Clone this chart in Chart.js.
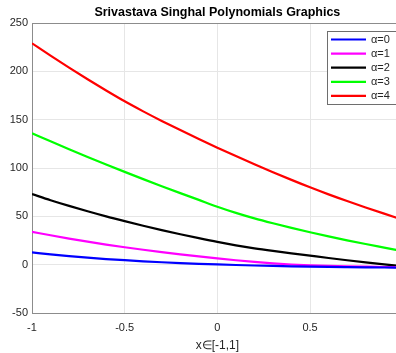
<!DOCTYPE html>
<html>
<head>
<meta charset="utf-8">
<script src="https://cdn.jsdelivr.net/npm/chart.js@4/dist/chart.umd.min.js"></script>
<style>
  html, body { margin: 0; padding: 0; background: #fff; overflow: hidden; }
  #wrap { width: 404px; height: 353px; }
</style>
</head>
<body>
<div id="wrap"><canvas id="c" width="404" height="353"></canvas></div>
<script>
// Sample points on [-1, 1], step 0.1
const xs = [-1, -0.9, -0.8, -0.7, -0.6, -0.5, -0.4, -0.3, -0.2, -0.1, 0,
            0.1, 0.2, 0.3, 0.4, 0.5, 0.6, 0.7, 0.8, 0.9, 1];

// Polynomial values for each alpha
const alpha0 = [12.7, 10.6, 8.8, 7.2, 5.8, 4.6, 3.5, 2.5, 1.6, 0.85, 0.2,
                -0.35, -0.85, -1.3, -1.68, -2, -2.28, -2.52, -2.74, -2.94, -3.1];
const alpha1 = [34, 30.4, 27, 23.8, 20.8, 18, 15.4, 13, 10.7, 8.5, 6.5,
                4.6, 2.9, 1.4, 0.2, -0.7, -1.3, -1.75, -2.1, -2.4, -2.6];
const alpha2 = [73, 66.7, 60.8, 55.2, 49.9, 45, 40.3, 35.8, 31.5, 27.4, 23.5,
                20, 16.9, 14.2, 11.7, 9.3, 6.9, 4.6, 2.4, 0.3, -1.7];
const alpha3 = [136, 127.6, 119.4, 111.4, 103.6, 96, 88.5, 81.2, 74, 67, 60,
                53.6, 47.9, 42.8, 38, 33.5, 29.2, 25.2, 21.4, 17.7, 14];
const alpha4 = [229, 216.2, 203.8, 191.8, 180.2, 169, 158.6, 148.7, 139.2, 130, 121,
                112.3, 103.9, 95.7, 87.7, 80, 72.7, 65.8, 59.2, 52.8, 46.5];

const seriesLabels = ['\u03b1=0', '\u03b1=1', '\u03b1=2', '\u03b1=3', '\u03b1=4'];
const seriesColors = ['#0000ff', '#ff00ff', '#000000', '#00ff00', '#ff0000'];
const seriesValues = [alpha0, alpha1, alpha2, alpha3, alpha4];

const yTicks = [-50, 0, 50, 100, 150, 200, 250];
const xTicks = [-1, -0.5, 0, 0.5];

const FONT = '"Liberation Sans", Arial, sans-serif';
const TICK_COLOR = '#262626';
const AXIS_COLOR = '#8c8c8c';
const GRID_COLOR = '#e6e6e6';

const datasets = seriesValues.map((vals, i) => ({
  label: seriesLabels[i],
  data: xs.map((x, j) => ({ x: x, y: vals[j] })),
  borderColor: seriesColors[i],
  backgroundColor: seriesColors[i],
  borderWidth: 2.2,
  pointRadius: 0,
  cubicInterpolationMode: 'monotone',
  fill: false
}));

// Box outline (top edge) and an in-plot legend in the upper right corner
const boxAndLegend = {
  id: 'boxAndLegend',
  afterDatasetsDraw(chart) {
    const { ctx, chartArea: a } = chart;
    ctx.save();
    ctx.strokeStyle = AXIS_COLOR;
    ctx.lineWidth = 1;
    ctx.beginPath();
    ctx.moveTo(a.left, a.top + 0.5);
    ctx.lineTo(a.right, a.top + 0.5);
    ctx.stroke();

    const left = Math.round(a.right - 76), top = Math.round(a.top + 8);
    const w = 80, rowH = 14.1, h = 73;
    ctx.fillStyle = '#ffffff';
    ctx.fillRect(left, top, w, h);
    ctx.strokeStyle = '#6e6e6e';
    ctx.strokeRect(left + 0.5, top + 0.5, w, h);
    ctx.font = '11px ' + FONT;
    ctx.textBaseline = 'middle';
    chart.data.datasets.forEach((ds, i) => {
      const y = top + 8.5 + i * rowH;
      ctx.strokeStyle = ds.borderColor;
      ctx.lineWidth = 2.2;
      ctx.beginPath();
      ctx.moveTo(left + 4, y);
      ctx.lineTo(left + 39, y);
      ctx.stroke();
      ctx.fillStyle = TICK_COLOR;
      ctx.fillText(ds.label, left + 44, y);
    });
    ctx.restore();
  }
};

new Chart(document.getElementById('c'), {
  type: 'line',
  data: { datasets: datasets },
  options: {
    responsive: false,
    animation: false,
    layout: { padding: { left: 0, right: 1.3, top: 0, bottom: 0 } },
    plugins: {
      legend: { display: false },
      tooltip: { enabled: false },
      title: {
        display: true,
        text: 'Srivastava Singhal Polynomials Graphics',
        fullSize: false,
        color: '#000000',
        font: { family: FONT, size: 12.5, weight: 'bold' },
        padding: { top: 5, bottom: 3 }
      }
    },
    scales: {
      x: {
        type: 'linear',
        min: -1,
        max: 1,
        afterBuildTicks(scale) { scale.ticks = xTicks.map(v => ({ value: v })); },
        ticks: {
          color: TICK_COLOR,
          font: { family: FONT, size: 11 },
          padding: 8,
          maxRotation: 0,
          callback: v => String(v)
        },
        grid: { color: GRID_COLOR, drawTicks: false, tickLength: 0 },
        border: { color: AXIS_COLOR, width: 1 },
        title: {
          display: true,
          text: 'x\u2208[-1,1]',
          color: TICK_COLOR,
          font: { family: FONT, size: 12 },
          padding: { top: 1, bottom: 0 }
        },
        afterFit(scale) { scale.height = 40; }
      },
      y: {
        type: 'linear',
        min: -50,
        max: 250,
        afterBuildTicks(scale) { scale.ticks = yTicks.map(v => ({ value: v })); },
        ticks: {
          color: TICK_COLOR,
          font: { family: FONT, size: 11 },
          padding: 4
        },
        grid: { color: GRID_COLOR, drawTicks: false, tickLength: 0 },
        border: { color: AXIS_COLOR, width: 1 },
        afterFit(scale) { scale.width = 32; }
      }
    }
  },
  plugins: [boxAndLegend]
});
</script>
</body>
</html>
